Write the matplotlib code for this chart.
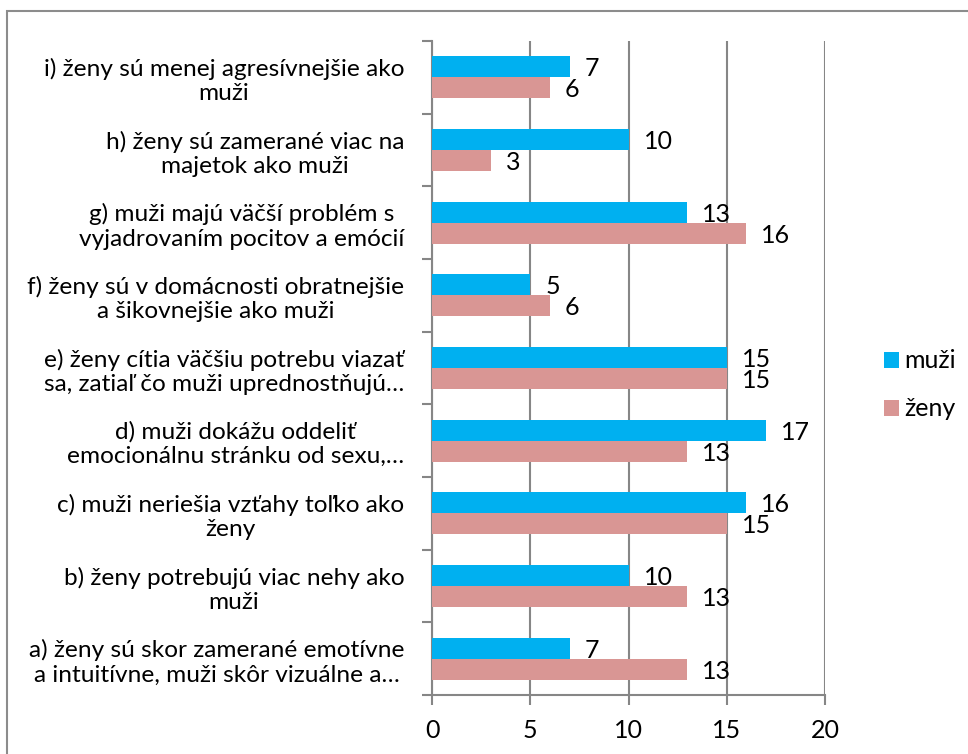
import matplotlib
matplotlib.use("Agg")
import matplotlib.pyplot as plt
from matplotlib.patches import Patch, Rectangle
import numpy as np

categories = [
    "a) ženy sú skor zamerané emotívne\na intuitívne, muži skôr vizuálne a…",
    "b) ženy potrebujú viac nehy ako\nmuži",
    "c) muži neriešia vzťahy toľko ako\nženy",
    "d) muži dokážu oddeliť\nemocionálnu stránku od sexu,…",
    "e) ženy cítia väčšiu potrebu viazať\nsa, zatiaľ čo muži uprednostňujú…",
    "f) ženy sú v domácnosti obratnejšie\na šikovnejšie ako muži",
    "g) muži majú väčší problém s\nvyjadrovaním pocitov a emócií",
    "h) ženy sú zamerané viac na\nmajetok ako muži",
    "i) ženy sú menej agresívnejšie ako\nmuži",
]
muzi = [7, 10, 16, 17, 15, 5, 13, 10, 7]
zeny = [13, 13, 15, 13, 15, 6, 16, 3, 6]
series_names = ["muži", "ženy"]
xticks = [0, 5, 10, 15, 20]

plt.rcParams['font.family'] = ['Lato', 'DejaVu Sans']
W, H = 968, 754
fig = plt.figure(figsize=(W/100, H/100), dpi=100)
ax = fig.add_axes([432/W, 1-695/H, (825-432)/W, (695-41)/H])

blue = "#00B0F0"
pink = "#D99694"
grid = "#868686"

y = np.arange(len(categories))
h = 0.29
ax.barh(y + h/2, muzi, height=h, color=blue, zorder=3)
ax.barh(y - h/2, zeny, height=h, color=pink, zorder=3)

fs = 18
for yi, v in zip(y, muzi):
    ax.annotate(str(v), (v, yi + h/2), xytext=(15, -2), textcoords="offset pixels",
                ha="left", va="center", fontsize=fs, color="black")
for yi, v in zip(y, zeny):
    ax.annotate(str(v), (v, yi - h/2), xytext=(15, -2), textcoords="offset pixels",
                ha="left", va="center", fontsize=fs, color="black")

ax.set_xlim(0, 20)
ax.set_ylim(-0.5, len(categories) - 0.5)
ax.set_xticks(xticks)
ax.set_xticklabels([str(t) for t in xticks], fontsize=fs)
ax.xaxis.grid(True, color=grid, linewidth=1.5, zorder=0)
ax.set_axisbelow(True)

ax.set_yticks(y)
ax.set_yticklabels(categories, fontsize=17.6, linespacing=1.2)
for lab in ax.get_yticklabels():
    lab.set_multialignment("center")
ax.set_yticks(np.arange(-0.5, len(categories), 1.0), minor=True)
ax.tick_params(axis="y", which="major", length=0, pad=20)
ax.tick_params(axis="y", which="minor", length=7, width=1.5, color=grid, direction="out")
ax.tick_params(axis="x", which="major", length=7, width=1.5, color=grid, direction="out", pad=10)

for s in ["top", "right"]:
    ax.spines[s].set_visible(False)
for s in ["left", "bottom"]:
    ax.spines[s].set_color(grid)
    ax.spines[s].set_linewidth(1.5)

handles = [Patch(facecolor=blue, label=series_names[0]),
           Patch(facecolor=pink, label=series_names[1])]
fig.legend(handles=handles, loc="center left", bbox_to_anchor=(874/W, 1-385/H),
           frameon=False, fontsize=fs, handlelength=0.6, handleheight=0.6,
           handletextpad=0.2, labelspacing=1.0, borderaxespad=0)

fig.add_artist(Rectangle((7/W, -0.1), 1.2, 1 - 11/H + 0.1, transform=fig.transFigure,
                         fill=False, edgecolor="#8c8c8c", linewidth=1.5))

fig.savefig("out.png", dpi=100)
